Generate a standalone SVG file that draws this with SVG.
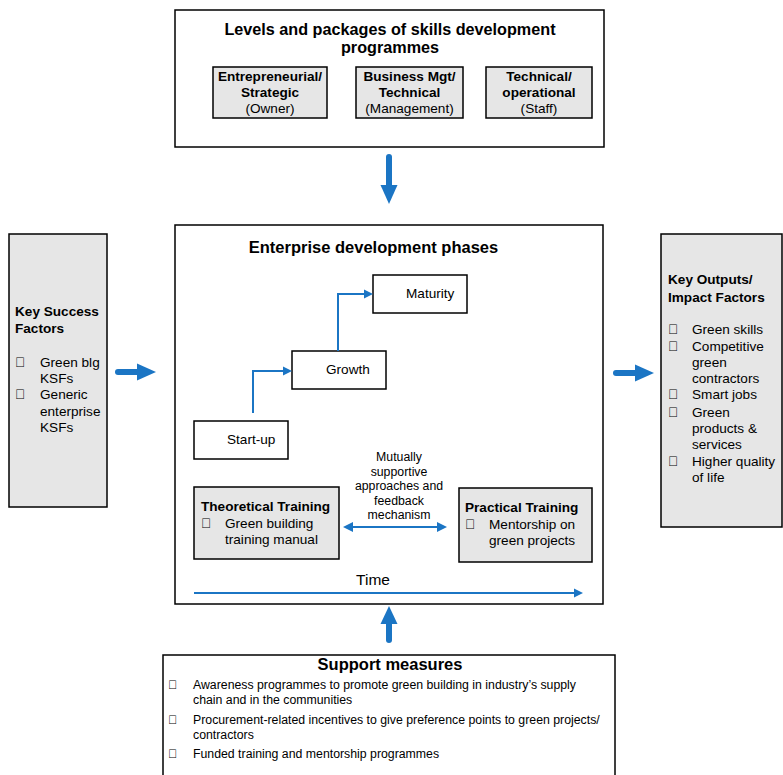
<svg xmlns="http://www.w3.org/2000/svg" width="783" height="775" viewBox="0 0 783 775">
<defs>
<style>
text{font-family:"Liberation Sans",Arial,sans-serif;fill:#000}
.b{font-weight:bold}
.box{fill:#fff;stroke:#000;stroke-width:1.5}
.gbox{fill:#e6e6e6;stroke:#000;stroke-width:1.5}
.t13{font-size:13.6px}
.t12{font-size:12.3px}
.t11{font-size:12.3px}
.mid{text-anchor:middle}
.fat{stroke:#1b75c4;stroke-width:6;stroke-linecap:round;fill:none}
.thin{stroke:#1b75c4;stroke-width:2;fill:none}
.head{fill:#1b75c4}
</style>
</defs>

<g id="levels">
<rect class="box" x="175" y="10" width="429" height="137"/>
<text class="b mid" x="390" y="35" font-size="16.2">Levels and packages of skills development</text>
<text class="b mid" x="390" y="53" font-size="16.2">programmes</text>
<g id="owner">
<rect class="gbox" x="213" y="67" width="114" height="51"/>
<text class="b mid t13" x="270" y="81">Entrepreneurial/</text>
<text class="b mid t13" x="270" y="97">Strategic</text>
<text class="mid t13" x="270" y="113">(Owner)</text>
</g>
<g id="management">
<rect class="gbox" x="356" y="67" width="107" height="51"/>
<text class="b mid t13" x="409.5" y="81">Business Mgt/</text>
<text class="b mid t13" x="409.5" y="97">Technical</text>
<text class="mid t13" x="409.5" y="113">(Management)</text>
</g>
<g id="staff">
<rect class="gbox" x="486" y="67" width="106" height="51"/>
<text class="b mid t13" x="539" y="81">Technical/</text>
<text class="b mid t13" x="539" y="97">operational</text>
<text class="mid t13" x="539" y="113">(Staff)</text>
</g>
</g>

<g id="ksf">
<rect class="gbox" x="9" y="234" width="98" height="273"/>
<text class="b t13" x="15" y="316">Key Success</text>
<text class="b t13" x="15" y="333">Factors</text>
<text class="t13" x="15" y="367">&#xF0A7;</text>
<text class="t13" x="40" y="367">Green blg</text>
<text class="t13" x="40" y="383">KSFs</text>
<text class="t13" x="15" y="399">&#xF0A7;</text>
<text class="t13" x="40" y="399">Generic</text>
<text class="t13" x="40" y="416">enterprise</text>
<text class="t13" x="40" y="432">KSFs</text>
</g>

<g id="outputs">
<rect class="gbox" x="661" y="234" width="121" height="293"/>
<text class="b t13" x="668" y="284">Key Outputs/</text>
<text class="b t13" x="668" y="302">Impact Factors</text>
<text class="t13" x="668" y="334">&#xF0A7;</text>
<text class="t13" x="692" y="334">Green skills</text>
<text class="t13" x="668" y="351">&#xF0A7;</text>
<text class="t13" x="692" y="351">Competitive</text>
<text class="t13" x="692" y="367">green</text>
<text class="t13" x="692" y="383">contractors</text>
<text class="t13" x="668" y="399">&#xF0A7;</text>
<text class="t13" x="692" y="399">Smart jobs</text>
<text class="t13" x="668" y="417">&#xF0A7;</text>
<text class="t13" x="692" y="417">Green</text>
<text class="t13" x="692" y="433">products &amp;</text>
<text class="t13" x="692" y="449">services</text>
<text class="t13" x="668" y="466">&#xF0A7;</text>
<text class="t13" x="692" y="466">Higher quality</text>
<text class="t13" x="692" y="482">of life</text>
</g>

<g id="phases">
<rect class="box" x="175" y="225" width="428" height="379"/>
<text class="b mid" x="373.5" y="253" font-size="16.5">Enterprise development phases</text>
<text class="mid" x="373" y="585" font-size="15.5">Time</text>
</g>

<g id="maturity">
<rect class="box" x="373" y="275" width="94" height="38"/>
<text class="t13" x="406" y="298">Maturity</text>
</g>
<g id="growth">
<rect class="box" x="292" y="351" width="94" height="38"/>
<text class="t13" x="326" y="374">Growth</text>
</g>
<g id="startup">
<rect class="box" x="194" y="421" width="94" height="38"/>
<text class="t13" x="227" y="444">Start-up</text>
</g>

<g id="theoretical">
<rect class="gbox" x="194" y="487" width="145" height="72"/>
<text class="b t13" x="201" y="511">Theoretical Training</text>
<text class="t13" x="201" y="528">&#xF0A7;</text>
<text class="t13" x="225" y="528">Green building</text>
<text class="t13" x="225" y="544">training manual</text>
</g>
<g id="practical">
<rect class="gbox" x="459" y="488" width="133" height="74"/>
<text class="b t13" x="465" y="512">Practical Training</text>
<text class="t13" x="465" y="529">&#xF0A7;</text>
<text class="t13" x="489" y="529">Mentorship on</text>
<text class="t13" x="489" y="545">green projects</text>
</g>

<g id="feedback-label">
<text class="mid t12" x="399" y="461">Mutually</text>
<text class="mid t12" x="399" y="476">supportive</text>
<text class="mid t12" x="399" y="490">approaches and</text>
<text class="mid t12" x="399" y="505">feedback</text>
<text class="mid t12" x="399" y="519">mechanism</text>
</g>

<g id="support">
<rect class="box" x="163" y="655" width="452" height="130"/>
<text class="b mid" x="390" y="670" font-size="16.5">Support measures</text>
<text class="t11" x="168" y="689">&#xF0A7;</text>
<text class="t11" x="193" y="689">Awareness programmes to promote green building in industry’s supply</text>
<text class="t11" x="193" y="704">chain and in the communities</text>
<text class="t11" x="168" y="724">&#xF0A7;</text>
<text class="t11" x="193" y="724">Procurement-related incentives to give preference points to green projects/</text>
<text class="t11" x="193" y="739">contractors</text>
<text class="t11" x="168" y="758">&#xF0A7;</text>
<text class="t11" x="193" y="758">Funded training and mentorship programmes</text>
</g>

<g id="connectors">
<line class="fat" x1="389" y1="157" x2="389" y2="186"/>
<path class="head" d="M380.5,185 L397.5,185 L389,204 Z"/>
<line class="fat" x1="118" y1="372" x2="138" y2="372"/>
<path class="head" d="M137,363.5 L137,380.5 L156,372 Z"/>
<line class="fat" x1="616" y1="373" x2="636" y2="373"/>
<path class="head" d="M635,364.5 L635,381.5 L654,373 Z"/>
<line class="fat" x1="389" y1="640" x2="389" y2="623"/>
<path class="head" d="M380.5,624 L397.5,624 L389,606 Z"/>
<polyline class="thin" points="253,413 253,371 284,371"/>
<path class="head" d="M283,366.5 L292,371 L283,375.5 Z"/>
<polyline class="thin" points="338,351 338,294 365,294"/>
<path class="head" d="M364,289.5 L373,294 L364,298.5 Z"/>
<line class="thin" x1="352" y1="527" x2="438" y2="527" stroke-width="2.5"/>
<path class="head" d="M353,522 L343,527 L353,532 Z"/>
<path class="head" d="M437,522 L447,527 L437,532 Z"/>
<line class="thin" x1="194" y1="593" x2="575" y2="593"/>
<path class="head" d="M574,588.5 L583,593 L574,597.5 Z"/>
</g>
</svg>
